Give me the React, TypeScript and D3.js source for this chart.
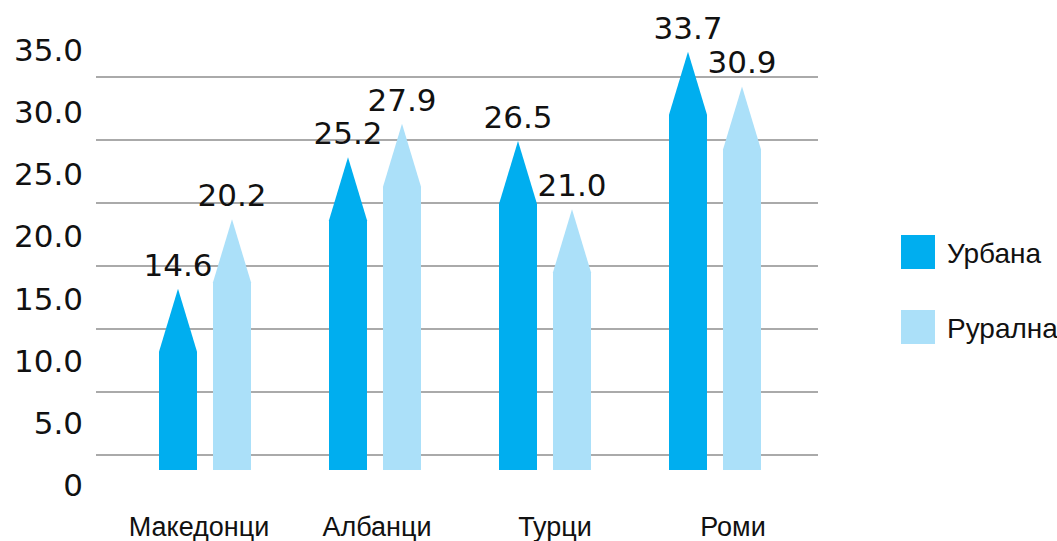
import { useEffect, useRef } from 'react'
import * as d3 from 'd3'

const categories = ['Македонци', 'Албанци', 'Турци', 'Роми']
const urbana = [14.6, 25.2, 26.5, 33.7]
const ruralna = [20.2, 27.9, 21.0, 30.9]
const ticks = [0, 5, 10, 15, 20, 25, 30, 35]
const seriesNames = ['Урбана', 'Рурална']

const colors = ['#00aeef', '#abe0f9']

export default function App() {
  const ref = useRef<SVGSVGElement>(null)

  useEffect(() => {
    const svg = d3.select(ref.current)
    svg.selectAll('*').remove()

    const x = d3.scaleBand().domain(categories).range([120, 800])
    // category names are spread a little wider than the bars in the original
    const xLabel = d3.scaleBand().domain(categories).range([110, 822])
    // bars and gridlines / labels sit on slightly different baselines in the original
    const y = d3.scaleLinear().domain([0, 35]).range([470, 35.6])
    const yGrid = d3.scaleLinear().domain([0, 35]).range([518, 77])
    const yLabel = d3.scaleLinear().domain([0, 35]).range([496, 61])

    const barW = 38
    const gap = 16
    const head = 63

    // gridlines
    svg.append('g')
      .selectAll('line')
      .data(ticks.filter(t => t > 0))
      .join('line')
      .attr('x1', 96)
      .attr('x2', 818)
      .attr('y1', d => yGrid(d))
      .attr('y2', d => yGrid(d))
      .attr('stroke', '#8e8e8e')
      .attr('stroke-width', 1.5)

    // y tick labels
    svg.append('g')
      .selectAll('text')
      .data(ticks)
      .join('text')
      .attr('x', 83)
      .attr('y', d => yLabel(d))
      .attr('text-anchor', 'end')
      .style('font-family', '"DejaVu Sans", sans-serif')
      .style('font-size', '31px')
      .style('fill', '#111')
      .text(d => (d === 0 ? '0' : d.toFixed(1)))

    const series = [urbana, ruralna]
    const arrow = (cx: number, v: number) => {
      const top = y(v)
      const bottom = y(0)
      const l = cx - barW / 2
      const r = cx + barW / 2
      return `M${l},${bottom}L${l},${top + head}L${cx},${top}L${r},${top + head}L${r},${bottom}Z`
    }

    series.forEach((vals, si) => {
      const off = si === 0 ? -(gap / 2 + barW / 2) : gap / 2 + barW / 2
      const g = svg.append('g')
      g.selectAll('path')
        .data(vals)
        .join('path')
        .attr('d', (d, i) => arrow(x(categories[i])! + x.bandwidth() / 2 + off, d))
        .attr('fill', colors[si])

      g.selectAll('text')
        .data(vals)
        .join('text')
        .attr('x', (d, i) => x(categories[i])! + x.bandwidth() / 2 + off)
        .attr('y', d => y(d) - 13)
        .attr('text-anchor', 'middle')
        .style('font-family', '"DejaVu Sans", sans-serif')
        .style('font-size', '31px')
        .style('fill', '#111')
        .text(d => d.toFixed(1))
    })

    // category labels
    svg.append('g')
      .selectAll('text')
      .data(categories)
      .join('text')
      .attr('x', d => xLabel(d)! + xLabel.bandwidth() / 2)
      .attr('y', 536)
      .attr('text-anchor', 'middle')
      .style('font-family', '"Liberation Sans", Arial, sans-serif')
      .style('font-size', '27px')
      .style('fill', '#111')
      .text(d => d)

    // legend
    const legend = svg.append('g')
      .selectAll('g')
      .data(seriesNames)
      .join('g')
      .attr('transform', (d, i) => `translate(901,${235 + i * 75})`)
    legend.append('rect')
      .attr('width', 34)
      .attr('height', 34)
      .attr('fill', (d, i) => colors[i])
    legend.append('text')
      .attr('x', 46)
      .attr('y', 28)
      .style('font-family', '"Liberation Sans", Arial, sans-serif')
      .style('font-size', '28px')
      .style('fill', '#111')
      .text(d => d)
  }, [])

  return (
    <svg
      ref={ref}
      width={1057}
      height={541}
      style={{ position: 'absolute', left: 0, top: 0, background: '#fff' }}
    />
  )
}
